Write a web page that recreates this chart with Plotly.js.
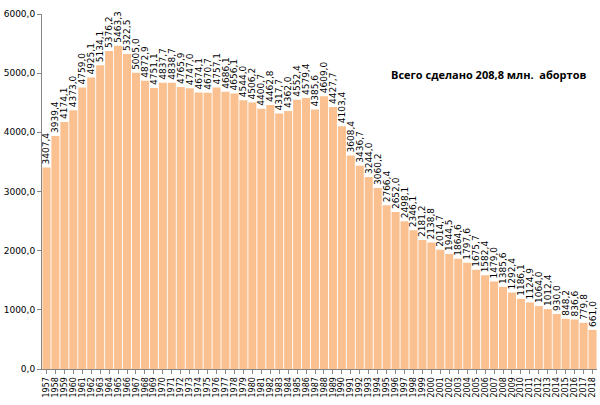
<!DOCTYPE html>
<html>
<head>
<meta charset="utf-8">
<script src="https://cdn.plot.ly/plotly-3.0.1.min.js"></script>
<style>
  html, body { margin: 0; padding: 0; background: #fff; }
  #chart { width: 600px; height: 405px; }
</style>
</head>
<body>
<div id="chart"></div>
<script>
// years 1957-2018
var years = [];
for (var y = 1957; y <= 2018; y++) { years.push(String(y)); }

// abortions, thousands
var abortions = [
  3407.4, 3939.4, 4174.1, 4373.0, 4759.0, 4925.1, 5134.1, 5376.2, 5463.3, 5322.5,
  5005.0, 4872.9, 4751.1, 4837.7, 4838.7, 4765.9, 4747.0, 4674.1, 4670.7, 4757.1,
  4686.1, 4656.1, 4544.0, 4506.2, 4400.7, 4462.8, 4317.7, 4362.0, 4552.4, 4579.4,
  4385.6, 4609.0, 4427.7, 4103.4, 3608.4, 3436.7, 3244.0, 3060.2, 2766.4, 2652.0,
  2498.1, 2346.1, 2181.2, 2138.8, 2014.7, 1944.5, 1864.6, 1797.6, 1675.7, 1582.4,
  1479.0, 1385.6, 1292.4, 1186.1, 1124.9, 1064.0, 1012.4, 930.0, 848.2, 836.6,
  779.8, 661.0
];

var yTicks = [0, 1000, 2000, 3000, 4000, 5000, 6000];
var note = 'Всего сделано 208,8 млн.  абортов';

var trace = {
  type: 'bar',
  x: years,
  y: abortions,
  marker: { color: '#fac090', line: { width: 0 } },
  texttemplate: '%{y:.1f}',
  textposition: 'outside',
  textangle: -90,
  textfont: { family: 'DejaVu Sans', size: 9, color: '#000' },
  cliponaxis: false,
  hoverinfo: 'x+y'
};

var layout = {
  width: 600,
  height: 405,
  margin: { l: 42, r: 3, t: 14, b: 36 },
  paper_bgcolor: '#fff',
  plot_bgcolor: '#fff',
  separators: ', ',
  bargap: 0.1,
  showlegend: false,
  uniformtext: { minsize: 9, mode: 'show' },
  font: { family: 'DejaVu Sans', size: 9, color: '#000' },
  xaxis: {
    type: 'category',
    tickmode: 'array',
    tickvals: years,
    ticktext: years,
    tickangle: -90,
    tickfont: { family: 'DejaVu Sans', size: 8 },
    ticks: 'outside',
    ticklen: 4,
    tickcolor: '#868686',
    showline: true,
    linecolor: '#868686',
    showgrid: false,
    automargin: false
  },
  yaxis: {
    range: [0, 6000],
    tickvals: yTicks,
    tickformat: '.1f',
    ticks: 'outside',
    ticklen: 4,
    tickcolor: '#868686',
    showline: true,
    linecolor: '#868686',
    showgrid: false,
    zeroline: false,
    tickfont: { family: 'DejaVu Sans', size: 9 }
  },
  annotations: [{
    xref: 'paper', yref: 'paper',
    x: 0.805, y: 0.83,
    xanchor: 'center', yanchor: 'middle',
    text: '<b>' + note + '</b>',
    showarrow: false,
    font: { family: 'Open Sans', size: 11, color: '#000' }
  }]
};

Plotly.newPlot('chart', [trace], layout, { displayModeBar: false, staticPlot: true });
</script>
</body>
</html>
